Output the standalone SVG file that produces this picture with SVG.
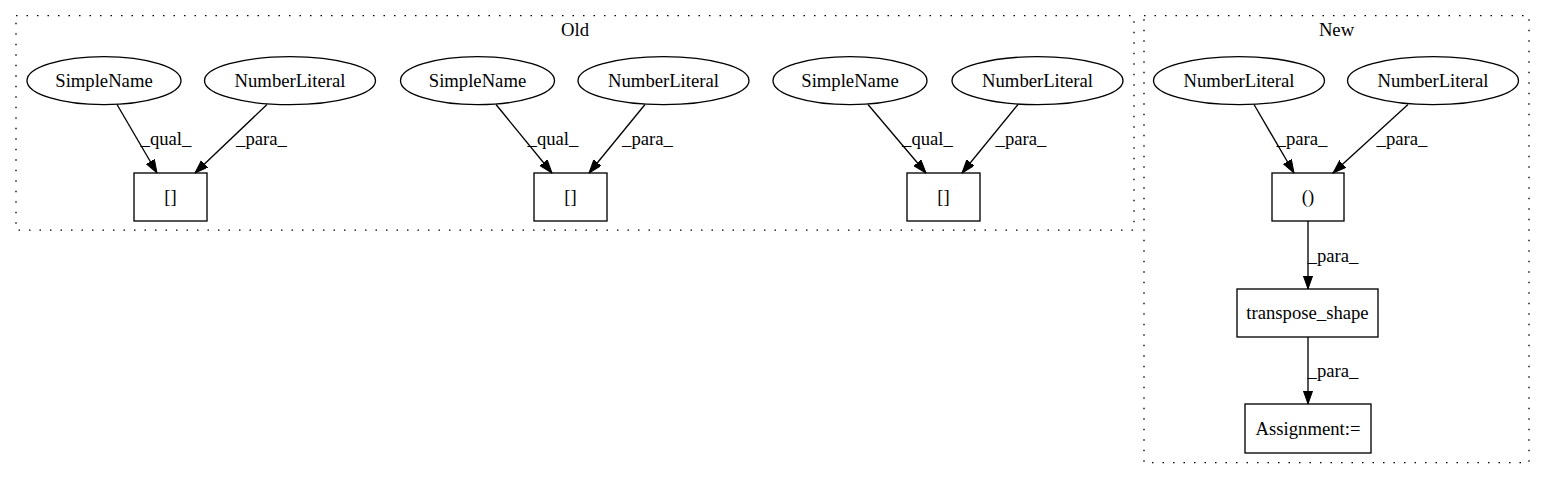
<svg xmlns="http://www.w3.org/2000/svg" width="1545" height="480" viewBox="0 0 1545 480">
<defs>
<style>
text{font-family:"Liberation Serif","Times New Roman",serif;font-size:18.67px;fill:#000;text-anchor:middle}
.cluster{fill:none;stroke:#000;stroke-width:1.33;stroke-dasharray:1.5,9}
.node{fill:none;stroke:#000;stroke-width:1.33}
.edge{fill:none;stroke:#000;stroke-width:1.33}
</style>
<marker id="arr" markerUnits="userSpaceOnUse" markerWidth="14" markerHeight="10" refX="13.3" refY="4.67" orient="auto">
<path d="M0,0 L13.3,4.67 L0,9.33 z" fill="#000" stroke="#000" stroke-width="1"/>
</marker>
</defs>
<rect width="1545" height="480" fill="#fff"/>
<g id="cluster_old">
<rect class="cluster" x="16" y="15.7" width="1118" height="214.5"/>
<text x="575" y="36">Old</text>
</g>
<g id="cluster_new">
<rect class="cluster" x="1144" y="15.7" width="385" height="447"/>
<text x="1336.5" y="36">New</text>
</g>
<g id="connectors">
<path class="edge" d="M117,104.5 L157,173" marker-end="url(#arr)"/>
<text x="166" y="145">_qual_</text>
<path class="edge" d="M267,104.5 L195,173" marker-end="url(#arr)"/>
<text x="261.5" y="145">_para_</text>
<path class="edge" d="M496,104.5 L552,173" marker-end="url(#arr)"/>
<text x="553" y="145">_qual_</text>
<path class="edge" d="M645,104.5 L589,173" marker-end="url(#arr)"/>
<text x="647.5" y="145">_para_</text>
<path class="edge" d="M868,104.5 L926,173" marker-end="url(#arr)"/>
<text x="927.5" y="145">_qual_</text>
<path class="edge" d="M1018,104.5 L962,173" marker-end="url(#arr)"/>
<text x="1021" y="145">_para_</text>
<path class="edge" d="M1254,104.5 L1294,173" marker-end="url(#arr)"/>
<text x="1302" y="145">_para_</text>
<path class="edge" d="M1408,104.5 L1333,173" marker-end="url(#arr)"/>
<text x="1402" y="145">_para_</text>
<path class="edge" d="M1308,221 L1308,289" marker-end="url(#arr)"/>
<text x="1333" y="262">_para_</text>
<path class="edge" d="M1308,337 L1308,404" marker-end="url(#arr)"/>
<text x="1333" y="377">_para_</text>
</g>
<g id="sn1"><ellipse class="node" cx="104" cy="80.7" rx="77" ry="24"/><text x="104" y="87">SimpleName</text></g>
<g id="nl1"><ellipse class="node" cx="290" cy="80.7" rx="85.5" ry="24"/><text x="290" y="87">NumberLiteral</text></g>
<g id="idx1"><rect class="node" x="134" y="173" width="73" height="48"/><text x="170.5" y="203">[]</text></g>
<g id="sn2"><ellipse class="node" cx="477.5" cy="80.7" rx="77" ry="24"/><text x="477.5" y="87">SimpleName</text></g>
<g id="nl2"><ellipse class="node" cx="663.5" cy="80.7" rx="85.5" ry="24"/><text x="663.5" y="87">NumberLiteral</text></g>
<g id="idx2"><rect class="node" x="534" y="173" width="73" height="48"/><text x="570.5" y="203">[]</text></g>
<g id="sn3"><ellipse class="node" cx="850" cy="80.7" rx="77" ry="24"/><text x="850" y="87">SimpleName</text></g>
<g id="nl3"><ellipse class="node" cx="1037.5" cy="80.7" rx="85.5" ry="24"/><text x="1037.5" y="87">NumberLiteral</text></g>
<g id="idx3"><rect class="node" x="907" y="173" width="73" height="48"/><text x="943.5" y="203">[]</text></g>
<g id="nl4"><ellipse class="node" cx="1239" cy="80.7" rx="85.5" ry="24"/><text x="1239" y="87">NumberLiteral</text></g>
<g id="nl5"><ellipse class="node" cx="1433" cy="80.7" rx="85.5" ry="24"/><text x="1433" y="87">NumberLiteral</text></g>
<g id="paren"><rect class="node" x="1272" y="173" width="72" height="48"/><text x="1308" y="203">()</text></g>
<g id="transpose_shape"><rect class="node" x="1237" y="289" width="141" height="48"/><text x="1307.5" y="319">transpose_shape</text></g>
<g id="assignment"><rect class="node" x="1245" y="404" width="126" height="49"/><text x="1308" y="435">Assignment:=</text></g>
</svg>
